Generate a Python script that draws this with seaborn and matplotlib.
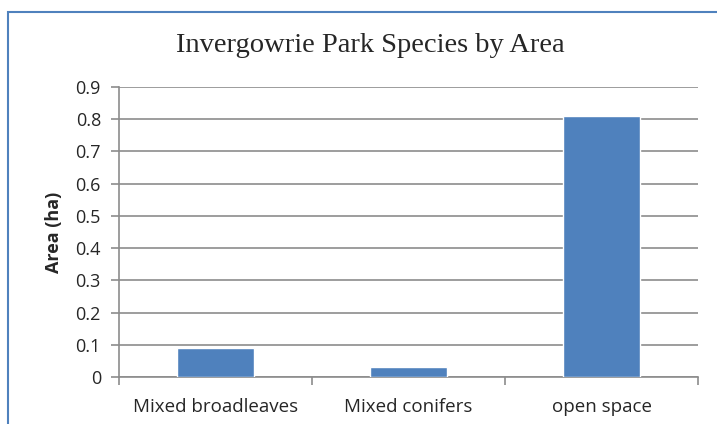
import matplotlib
matplotlib.use("Agg")
import matplotlib.pyplot as plt
from matplotlib.patches import Rectangle
import seaborn as sns
import pandas as pd

categories = ["Mixed broadleaves", "Mixed conifers", "open space"]
areas = [0.09, 0.03, 0.81]
y_ticks = [0, 0.1, 0.2, 0.3, 0.4, 0.5, 0.6, 0.7, 0.8, 0.9]
y_tick_labels = ["0", "0.1", "0.2", "0.3", "0.4", "0.5", "0.6", "0.7", "0.8", "0.9"]

df = pd.DataFrame({"Species": categories, "Area": areas})

sns.set_theme(style="white")
plt.rcParams["font.family"] = ["Open Sans", "DejaVu Sans"]

W, H = 717, 424
fig = plt.figure(figsize=(W / 100, H / 100), dpi=100)
ax = fig.add_axes([119 / W, 1 - 377 / H, (698 - 119) / W, (377 - 87) / H])

# chart frame, open to the right and bottom
frame = Rectangle((7.5 / W, -0.1), 1.2, 1 - 12.5 / H + 0.1, transform=fig.transFigure,
                  fill=False, edgecolor="#4F81BD", linewidth=1.5, zorder=0)
fig.patches.append(frame)

sns.barplot(data=df, x="Species", y="Area", color="#4F81BD", saturation=1,
            width=0.4, ax=ax, zorder=3)

ax.set_ylim(0, 0.9)
ax.set_xlim(-0.5, 2.5)
ax.set_yticks(y_ticks)
ax.set_yticklabels(y_tick_labels)
ax.yaxis.grid(True, color="#8C8C8C", linewidth=1.2)
ax.set_axisbelow(True)

for s in ["top", "right"]:
    ax.spines[s].set_visible(False)
for s in ["left", "bottom"]:
    ax.spines[s].set_color("#8C8C8C")
    ax.spines[s].set_linewidth(1.2)

ax.tick_params(axis="y", length=6, width=1.2, color="#8C8C8C", direction="out",
               labelsize=13, pad=7, left=True)
# x ticks sit on category boundaries
ax.set_xticks([0, 1, 2])
ax.set_xticklabels(categories)
ax.tick_params(axis="x", length=0, labelsize=13.5, pad=15)
ax.set_xticks([-0.5, 0.5, 1.5, 2.5], minor=True)
ax.tick_params(axis="x", which="minor", length=6, width=1.2, color="#8C8C8C",
               direction="out", bottom=True)

ax.set_xlabel("")
ax.set_ylabel("Area (ha)", fontsize=13, fontweight="bold", labelpad=9)

fig.text(370 / W, 1 - 46 / H, "Invergowrie Park Species by Area", ha="center", va="center",
         fontsize=20.5, family=["Liberation Serif", "DejaVu Serif"])

fig.savefig("out.png", dpi=100, facecolor="white")
